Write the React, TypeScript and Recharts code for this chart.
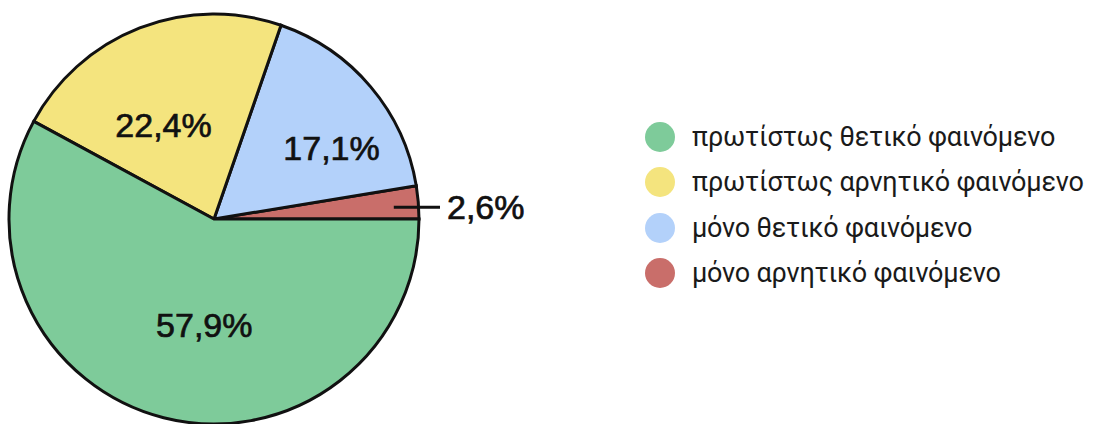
import { PieChart, Pie, Cell, Legend } from 'recharts';

const categories = ['μόνο αρνητικό φαινόμενο', 'μόνο θετικό φαινόμενο', 'πρωτίστως αρνητικό φαινόμενο', 'πρωτίστως θετικό φαινόμενο'];
const shares = [2.6, 17.1, 22.4, 57.9];
const colors = ['#c96e6a', '#b3d1fa', '#f4e47e', '#7ecb9a'];

// small placement tweaks so the labels sit where the original puts them
const labelAngleNudge = [0, -9, 7, 9];
const labelRadiusFactor = [0.88, 0.67, 0.52, 0.52];

const data = categories.map((name, i) => ({ name, value: shares[i] }));

const RAD = Math.PI / 180;
const fmt = (v: number) => v.toFixed(1).replace('.', ',') + '%';

const renderLabel = (props: any) => {
  const { cx, cy, midAngle, outerRadius, index, value } = props;
  const ang = (midAngle + labelAngleNudge[index]) * RAD;
  const r = outerRadius * labelRadiusFactor[index];
  const x = cx + r * Math.cos(ang);
  const y = cy - r * Math.sin(ang);
  const textStyle = {
    fontFamily: '"Liberation Sans", Arial, sans-serif',
    fontWeight: 400,
    fontSize: 34,
    fill: '#111',
    stroke: '#111',
    strokeWidth: 0.7,
  };
  if (index === 0) {
    const x2 = cx + outerRadius + 21;
    return (
      <g>
        <line x1={x} y1={y + 3} x2={x2} y2={y + 3} stroke="#111" strokeWidth={3} />
        <text x={x2 + 7} y={y + 3} dominantBaseline="central" textAnchor="start" style={textStyle}>
          {fmt(value)}
        </text>
      </g>
    );
  }
  return (
    <text x={x} y={y} dominantBaseline="central" textAnchor="middle" style={textStyle}>
      {fmt(value)}
    </text>
  );
};

const LegendList = (props: any) => {
  const items = [...(props.payload ?? [])].reverse();
  return (
    <div>
      {items.map((it: any) => (
        <div key={it.value} style={{ display: 'flex', alignItems: 'center', height: 45.5 }}>
          <span
            style={{ width: 30, height: 30, flexShrink: 0, borderRadius: 15, background: it.color, display: 'inline-block', marginRight: 17 }}
          />
          <span
            style={{ fontFamily: 'Roboto, "Noto Sans", sans-serif', fontSize: 27, letterSpacing: -0.2, color: '#1a1a1a', whiteSpace: 'nowrap' }}
          >
            {it.value}
          </span>
        </div>
      ))}
    </div>
  );
};

export default function App() {
  return (
    <div style={{ position: 'absolute', left: 0, top: 0, width: 1094, height: 424, background: '#fff' }}>
      <PieChart width={1094} height={424} margin={{ top: 0, right: 0, bottom: 0, left: 0 }}>
        <Pie
          data={data}
          dataKey="value"
          nameKey="name"
          cx={214}
          cy={219}
          outerRadius={205}
          startAngle={0}
          endAngle={360}
          stroke="#111"
          strokeWidth={3}
          label={renderLabel}
          labelLine={false}
          isAnimationActive={false}
        >
          {data.map((d, i) => (
            <Cell key={d.name} fill={colors[i]} />
          ))}
        </Pie>
        <Legend
          layout="vertical"
          content={<LegendList />}
          wrapperStyle={{ left: 645, top: 114, width: 449 }}
        />
      </PieChart>
    </div>
  );
}
